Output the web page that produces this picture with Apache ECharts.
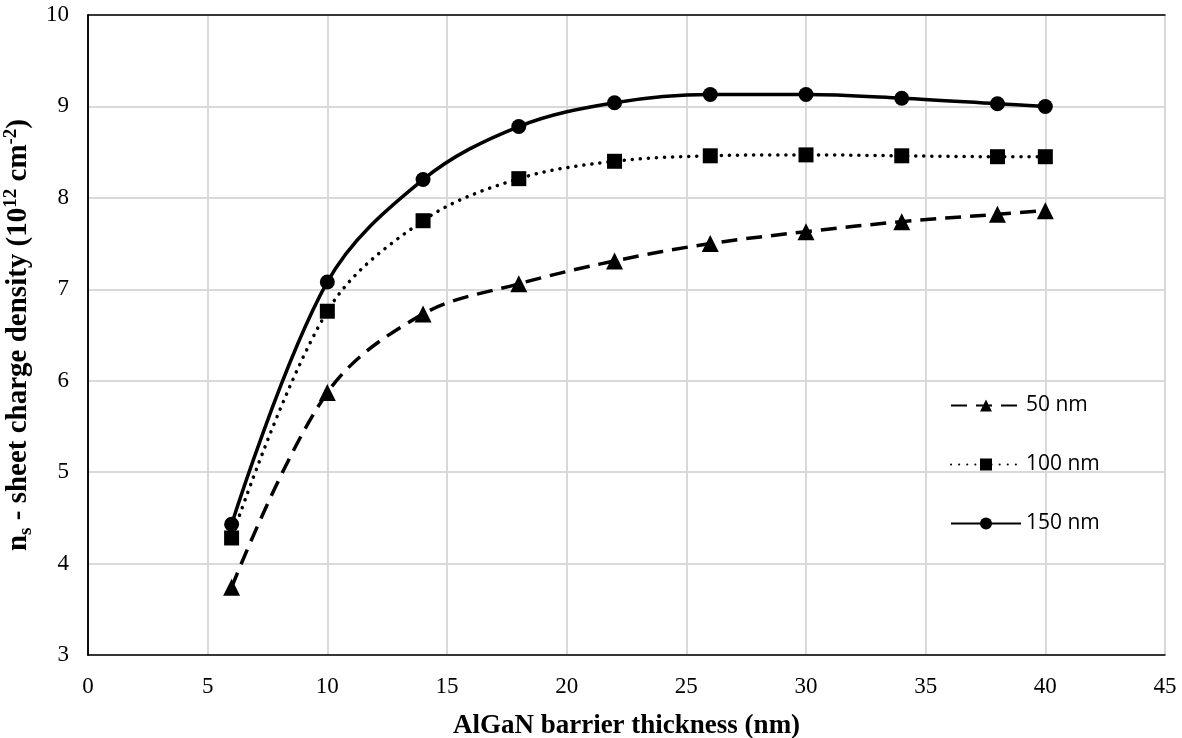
<!DOCTYPE html>
<html>
<head>
<meta charset="utf-8">
<script src="https://cdn.jsdelivr.net/npm/echarts@6/dist/echarts.min.js"></script>
<style>
  html, body { margin: 0; padding: 0; background: #fff; }
  #main { width: 1182px; height: 738px; }
</style>
</head>
<body>
<div id="main"></div>
<script>
// barrier thickness (nm)
var thickness = [6, 10, 14, 18, 22, 26, 30, 34, 38, 40];
// sheet charge density (10^12 cm^-2) per buffer thickness
var ns50 = [3.74, 5.87, 6.73, 7.06, 7.31, 7.50, 7.63, 7.74, 7.82, 7.86];
var ns100 = [4.28, 6.76, 7.75, 8.21, 8.40, 8.46, 8.47, 8.46, 8.45, 8.45];
var ns150 = [4.43, 7.08, 8.20, 8.78, 9.04, 9.13, 9.13, 9.09, 9.03, 9.00];
var names = ['50 nm', '100 nm', '150 nm'];

function pairs(ys) {
    var out = [];
    for (var i = 0; i < thickness.length; i++) {
        out.push([thickness[i], ys[i]]);
    }
    return out;
}

var serif = 'Liberation Serif';
var myChart = echarts.init(document.getElementById('main'));

// plain black frame axes for the top and right edges
var frameX = {
    type: 'value', min: 0, max: 45, interval: 5, position: 'top',
    axisLine: { show: true, lineStyle: { color: '#000', width: 1.5 } },
    axisTick: { show: false }, axisLabel: { show: false }, splitLine: { show: false }
};
var frameY = {
    type: 'value', min: 3, max: 10, interval: 1, position: 'right',
    axisLine: { show: true, lineStyle: { color: '#000', width: 1.5 } },
    axisTick: { show: false }, axisLabel: { show: false }, splitLine: { show: false }
};

var option = {
    backgroundColor: '#fff',
    animation: false,
    grid: {
        left: 88,
        right: 17,
        top: 15,
        bottom: 83,
        outerBoundsMode: 'none'
    },
    legend: {
        orient: 'vertical',
        left: 945,
        top: 390,
        itemWidth: 70,
        itemHeight: 15,
        itemGap: 38,
        data: names,
        textStyle: { fontFamily: 'Open Sans', fontSize: 21, color: '#000' }
    },
    xAxis: [{
        type: 'value',
        min: 0,
        max: 45,
        interval: 5,
        name: 'AlGaN barrier thickness (nm)',
        nameLocation: 'middle',
        nameGap: 58,
        nameTextStyle: { fontFamily: serif, fontSize: 27, fontWeight: 'bold', color: '#000' },
        axisLine: { lineStyle: { color: '#000', width: 1.5 } },
        axisTick: { show: false },
        axisLabel: { fontFamily: serif, fontSize: 23, color: '#000', margin: 20 },
        splitLine: { lineStyle: { color: '#d9d9d9', width: 2 } }
    }, frameX],
    yAxis: [{
        type: 'value',
        min: 3,
        max: 10,
        interval: 1,
        name: 'n{sub|s} - sheet charge density (10{sup|12} cm{sup|-2})',
        nameLocation: 'middle',
        nameGap: 45,
        nameTextStyle: {
            fontFamily: serif, fontSize: 29, fontWeight: 'bold', color: '#000', lineHeight: 34,
            rich: {
                sub: { fontFamily: serif, fontSize: 19, fontWeight: 'bold', verticalAlign: 'bottom', lineHeight: 34 },
                sup: { fontFamily: serif, fontSize: 19, fontWeight: 'bold', verticalAlign: 'top', lineHeight: 34 }
            }
        },
        axisLine: { show: true, lineStyle: { color: '#000', width: 1.5 } },
        axisTick: { show: false },
        axisLabel: { fontFamily: serif, fontSize: 23, color: '#000', margin: 19 },
        splitLine: { lineStyle: { color: '#d9d9d9', width: 2 } }
    }, frameY],
    series: [
        {
            name: names[0],
            type: 'line',
            smooth: 0.35,
            symbol: 'triangle',
            symbolSize: 17,
            itemStyle: { color: '#000' },
            lineStyle: { color: '#000', width: 3.5, type: [16, 9] },
            data: pairs(ns50)
        },
        {
            name: names[1],
            type: 'line',
            smooth: 0.35,
            symbol: 'rect',
            symbolSize: 15,
            itemStyle: { color: '#000' },
            lineStyle: { color: '#000', width: 3.5, type: [0.1, 8], cap: 'round' },
            data: pairs(ns100)
        },
        {
            name: names[2],
            type: 'line',
            smooth: 0.35,
            symbol: 'circle',
            symbolSize: 15,
            itemStyle: { color: '#000' },
            lineStyle: { color: '#000', width: 3.5 },
            data: pairs(ns150)
        }
    ]
};

myChart.setOption(option);
window.addEventListener('resize', function () {
    myChart.resize();
});
</script>
</body>
</html>
